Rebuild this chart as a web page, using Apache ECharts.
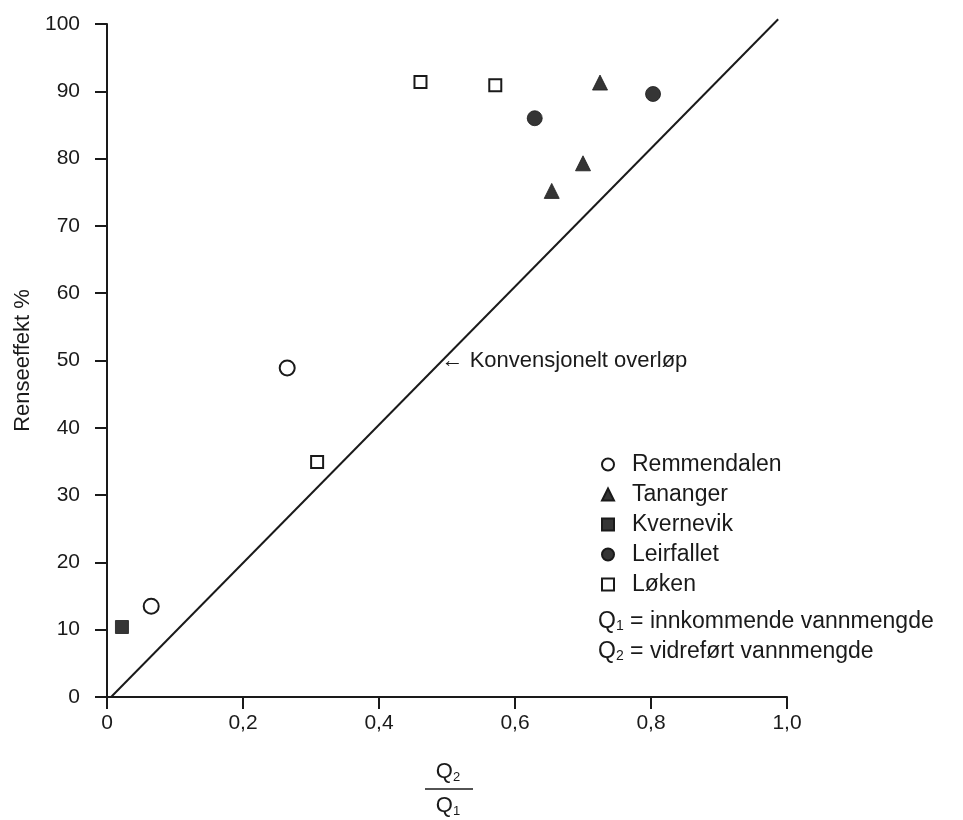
<!DOCTYPE html>
<html>
<head>
<meta charset="utf-8">
<script src="https://cdn.jsdelivr.net/npm/echarts@6/dist/echarts.min.js"></script>
<style>
	html, body { margin: 0; padding: 0; background: #fff; }
	#chart { width: 963px; height: 820px; }
</style>
</head>
<body>
<div id="chart"></div>
<script>
// Data: [Q2/Q1, renseeffekt %]
var remmendalen = [[0.065, 13.5], [0.265, 48.9]]
var tananger = [[0.725, 91.3], [0.700, 79.3], [0.654, 75.2]]
var kvernevik = [[0.022, 10.4]]
var leirfallet = [[0.629, 86.0], [0.803, 89.6]]
var loken = [[0.461, 91.4], [0.571, 90.9], [0.309, 34.9]]

// Conventional overflow line
var overlop = [[0.006, 0], [0.987, 100.7]]
var overlopLabelAt = [0.492, 50]

var seriesNames = ['Remmendalen', 'Tananger', 'Kvernevik', 'Leirfallet', 'Løken']

var FONT = '"Liberation Sans", Arial, sans-serif'
var INK = '#1a1a1a'
var FILL = '#353535'

var chart = echarts.init(document.getElementById('chart'))

// Scatter series helper
scatter = (name, data, symbol, size, filled) => {
	return {
		name: name,
		type: 'scatter',
		data: data,
		symbol: symbol,
		symbolSize: size,
		itemStyle: {
			color: filled ? FILL : '#fff',
			borderColor: INK,
			borderWidth: filled ? 0.8 : 2,
			opacity: 1,
		},
		z: 5,
	}
}

// Q1 / Q2 rich text styles
var qRich = {
	q: { fontSize: 23, fontFamily: FONT, fill: INK },
	s: { fontSize: 14, fontFamily: FONT, fill: INK, padding: [10, 0, 0, 0] },
}
var fracRich = {
	q: { fontSize: 22, fontFamily: FONT, fill: INK },
	s: { fontSize: 13, fontFamily: FONT, fill: INK, padding: [10, 0, 0, 0] },
}

var option = {
	animation: false,
	backgroundColor: '#fff',
	textStyle: { fontFamily: FONT, color: INK },
	grid: { left: 107, right: 176, top: 24, bottom: 123 },
	xAxis: {
		type: 'value',
		min: 0,
		max: 1,
		interval: 0.2,
		splitLine: { show: false },
		axisLine: { lineStyle: { color: INK, width: 2 } },
		axisTick: { length: 12, lineStyle: { color: INK, width: 2 } },
		axisLabel: {
			margin: 16,
			fontSize: 21,
			fontFamily: FONT,
			color: INK,
			formatter: (v) => (v === 0 ? '0' : v.toFixed(1).replace('.', ',')),
		},
	},
	yAxis: {
		type: 'value',
		min: 0,
		max: 100,
		interval: 10,
		name: 'Renseeffekt %',
		nameLocation: 'middle',
		nameRotate: 90,
		nameGap: 70,
		nameTextStyle: { fontSize: 22, fontFamily: FONT, color: INK },
		splitLine: { show: false },
		axisLine: { lineStyle: { color: INK, width: 2 } },
		axisTick: { length: 12, lineStyle: { color: INK, width: 2 } },
		axisLabel: { margin: 27, fontSize: 21, fontFamily: FONT, color: INK },
	},
	legend: {
		data: seriesNames,
		orient: 'vertical',
		left: 596,
		top: 448,
		itemWidth: 12,
		itemHeight: 12,
		itemGap: 7,
		textStyle: { fontSize: 23, fontFamily: FONT, color: INK, padding: [0, 0, 0, 13] },
	},
	series: [
		scatter('Remmendalen', remmendalen, 'circle', 15, false),
		scatter('Tananger', tananger, 'triangle', 15, true),
		scatter('Kvernevik', kvernevik, 'rect', 13, true),
		scatter('Leirfallet', leirfallet, 'circle', 15, true),
		scatter('Løken', loken, 'rect', 12, false),
		{
			name: 'overlop',
			type: 'line',
			data: overlop,
			symbol: 'none',
			clip: false,
			lineStyle: { color: INK, width: 2 },
			markPoint: {
				symbol: 'circle',
				symbolSize: 0,
				data: [{ coord: overlopLabelAt }],
				label: {
					show: true,
					position: 'right',
					distance: 0,
					formatter: '\u2190 Konvensjonelt overløp',
					fontSize: 22,
					fontFamily: FONT,
					color: INK,
				},
			},
		},
	],
	graphic: [
		{
			type: 'text',
			left: 598,
			top: 610,
			style: { text: '{q|Q}{s|1}{q| = innkommende vannmengde}', rich: qRich },
		},
		{
			type: 'text',
			left: 598,
			top: 640,
			style: { text: '{q|Q}{s|2}{q| = vidreført vannmengde}', rich: qRich },
		},
		// x axis title as a fraction Q2 / Q1
		{
			type: 'text',
			x: 448,
			y: 772,
			style: { text: '{q|Q}{s|2}', align: 'center', verticalAlign: 'middle', rich: fracRich },
		},
		{
			type: 'line',
			shape: { x1: 425, y1: 789, x2: 473, y2: 789 },
			style: { stroke: INK, lineWidth: 1.5 },
		},
		{
			type: 'text',
			x: 448,
			y: 806,
			style: { text: '{q|Q}{s|1}', align: 'center', verticalAlign: 'middle', rich: fracRich },
		},
	],
}

chart.setOption(option)
</script>
</body>
</html>
